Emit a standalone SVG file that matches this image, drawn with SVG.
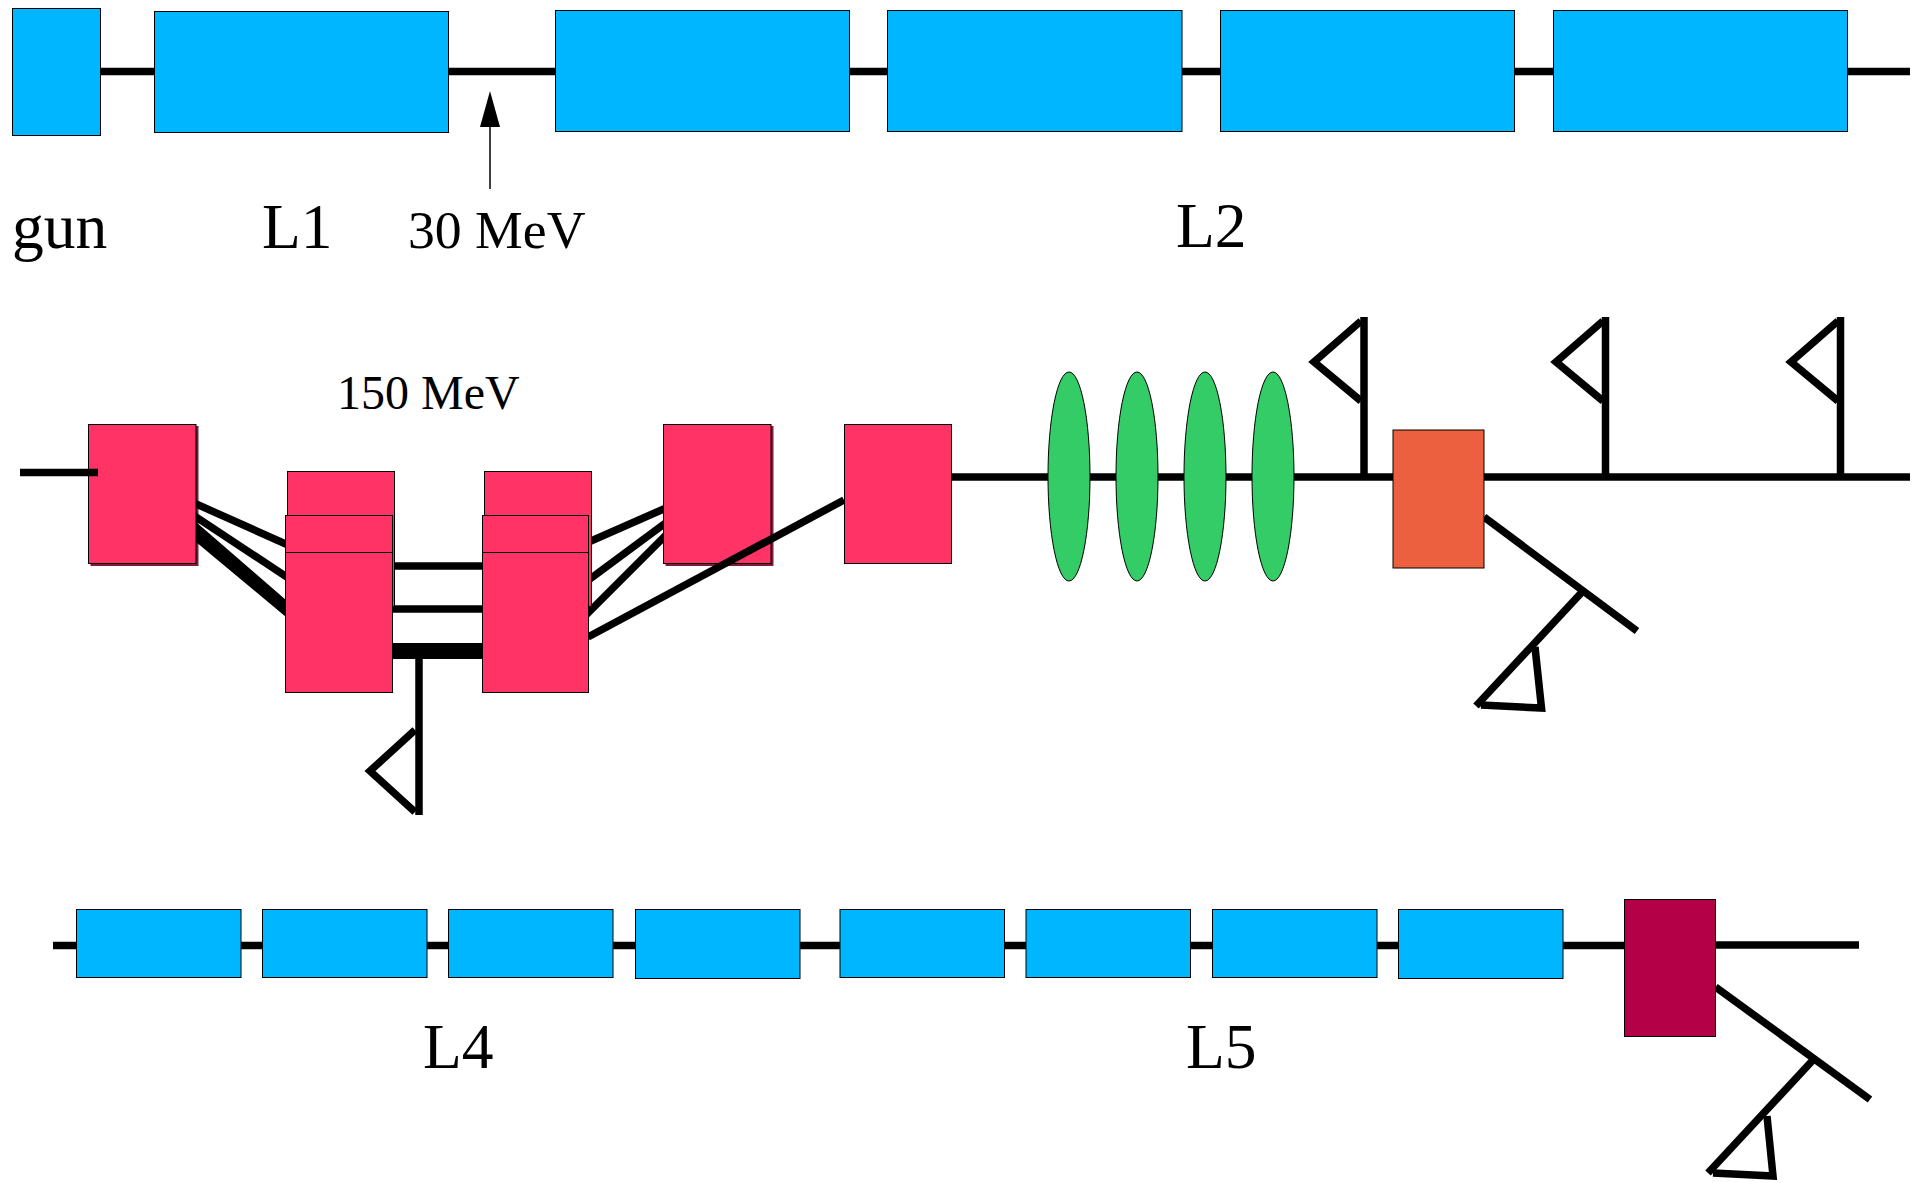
<svg xmlns="http://www.w3.org/2000/svg" width="1921" height="1183" viewBox="0 0 1921 1183">
<style>
.b{stroke:#000;stroke-width:1}
.blue{fill:#00b7ff}
.pink{fill:#ff3366}
.sh{fill:#7a1f3a;stroke:none}
.g{fill:#33cc66}
.w{fill:none;stroke:#000;stroke-width:7.5;stroke-linejoin:miter}
.t{font-family:"Liberation Serif","Times New Roman",serif;fill:#000}
.big{font-size:63.500px}
.mid{font-size:53.700px}
.sm{font-size:48px}
</style>
<defs>
<clipPath id="fan"><rect x="196" y="480" width="90" height="160"/><rect x="585" y="480" width="78.500" height="170"/></clipPath>
</defs>
<rect width="1921" height="1183" fill="#fff"/>
<g id="m1"><rect class="sh" x="90.500" y="426" width="108" height="140"/><rect class="b pink" x="88.500" y="424.500" width="107.500" height="139"/></g>
<g id="m4"><rect class="sh" x="665.500" y="426" width="108" height="140"/><rect class="b pink" x="663.500" y="424.500" width="107.500" height="139"/></g>
<g id="connectors">
<path class="w" d="M100 71.500H1910"/>
<path d="M490 189V125" stroke="#000" stroke-width="1.500" fill="none"/>
<path d="M490 91L480 127H500Z" fill="#000"/>
<path class="w" d="M20 472.500H98"/>
<g clip-path="url(#fan)">
<path class="w" d="M186 499.500L296 548.500"/>
<path class="w" d="M186 510.500L296 583"/>
<path d="M196 522L286 600V617L196 542Z" fill="#000"/>
<path class="w" d="M575 548L675 504"/>
<path class="w" d="M575 590L675 516"/>
<path class="w" d="M575 626L675 526"/>
</g>
<path class="w" d="M392 566H482"/>
<path class="w" d="M392 609H482"/>
<path class="w" style="stroke-width:16" d="M392 651H482"/>
<path class="w" d="M419 651V815"/>
<path class="w" d="M415 730L370 771L415 812"/>
<path class="w" d="M588 637L844 500"/>
<path class="w" d="M951 477H1910"/>
<path class="w" d="M1364 317V476"/>
<path class="w" d="M1361 321L1314 362L1361 401"/>
<path class="w" d="M1605.500 317V476"/>
<path class="w" d="M1603 321L1556 362L1603 401"/>
<path class="w" d="M1840.500 317V476"/>
<path class="w" d="M1838 321L1791 362L1838 401"/>
<path class="w" d="M1484 517L1637 631"/>
<path class="w" d="M1583 591L1476 706"/>
<path class="w" d="M1535 647L1541.500 708L1481 705"/>
<path class="w" d="M53 945.500H1624"/>
<path class="w" d="M1715 945H1859"/>
<path class="w" d="M1715.500 987L1870 1099.500"/>
<path class="w" d="M1813 1060L1708 1173"/>
<path class="w" d="M1767 1116L1773 1176L1713 1173"/>
</g>
<g id="gun"><rect class="b blue" x="12.500" y="8.500" width="88" height="127"/></g>
<g id="l1"><rect class="b blue" x="154.500" y="11.500" width="294" height="121"/></g>
<g id="l2a"><rect class="b blue" x="555.500" y="10.500" width="294" height="121"/></g>
<g id="l2b"><rect class="b blue" x="887.500" y="10.500" width="294.500" height="121"/></g>
<g id="l2c"><rect class="b blue" x="1220.500" y="10.500" width="294" height="121"/></g>
<g id="l2d"><rect class="b blue" x="1553.500" y="10.500" width="294" height="121"/></g>
<g id="m2"><rect class="b pink" x="287.500" y="471.500" width="107" height="135"/><rect class="b pink" x="285.500" y="515.500" width="107" height="37"/><rect class="b pink" x="285.500" y="552.500" width="107" height="140"/></g>
<g id="m3"><rect class="b pink" x="484.500" y="471.500" width="107" height="135"/><rect class="b pink" x="482.500" y="515.500" width="106" height="37"/><rect class="b pink" x="482.500" y="552.500" width="106" height="140"/></g>
<g id="m5"><rect class="b pink" x="844.500" y="424.500" width="107" height="139"/></g>
<g id="q1"><ellipse class="b g" cx="1069" cy="476.500" rx="21" ry="104.500"/></g>
<g id="q2"><ellipse class="b g" cx="1137" cy="476.500" rx="21" ry="104.500"/></g>
<g id="q3"><ellipse class="b g" cx="1205" cy="476.500" rx="21" ry="104.500"/></g>
<g id="q4"><ellipse class="b g" cx="1273" cy="476.500" rx="21" ry="104.500"/></g>
<g id="dipole1"><rect class="b" fill="#ec6040" x="1393" y="430" width="91" height="138"/></g>
<g id="l4a"><rect class="b blue" x="76.500" y="909.500" width="164.500" height="68"/></g>
<g id="l4b"><rect class="b blue" x="262.500" y="909.500" width="164.500" height="68"/></g>
<g id="l4c"><rect class="b blue" x="448.500" y="909.500" width="164.500" height="68"/></g>
<g id="l4d"><rect class="b blue" x="635.500" y="909.500" width="164.500" height="69"/></g>
<g id="l5a"><rect class="b blue" x="840" y="909.500" width="164.500" height="68"/></g>
<g id="l5b"><rect class="b blue" x="1026" y="909.500" width="164.500" height="68"/></g>
<g id="l5c"><rect class="b blue" x="1212.500" y="909.500" width="164.500" height="68"/></g>
<g id="l5d"><rect class="b blue" x="1398.500" y="909.500" width="164.500" height="69"/></g>
<g id="dipole2"><rect class="b" fill="#b40046" x="1624.500" y="899.500" width="91" height="137"/></g>
<g id="labels">
<text class="t big" x="12" y="248">gun</text>
<text class="t big" x="262" y="248">L1</text>
<text class="t mid" x="408" y="248">30 MeV</text>
<text class="t big" x="1176" y="247">L2</text>
<text class="t sm" x="337" y="409">150 MeV</text>
<text class="t big" x="423" y="1068">L4</text>
<text class="t big" x="1186" y="1068">L5</text>
</g>
</svg>
